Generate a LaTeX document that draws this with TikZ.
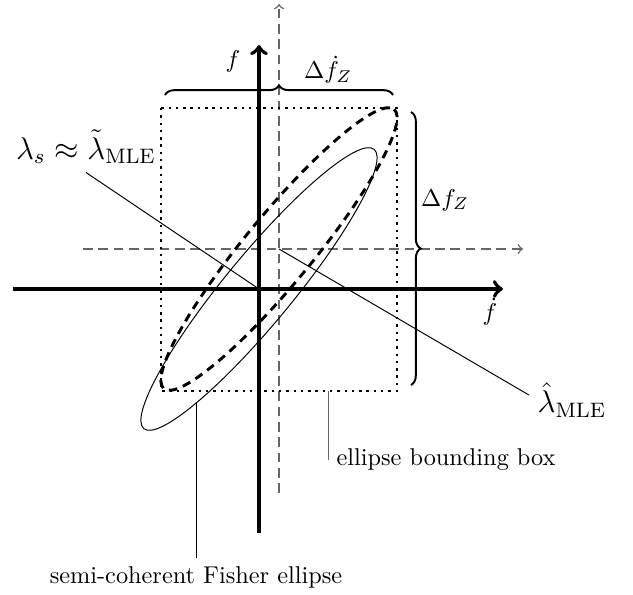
\documentclass[tikz,border=0pt]{standalone}
\usepackage{graphicx}
\usetikzlibrary{decorations.pathreplacing}
\newcommand{\biglbl}[1]{\scalebox{1.075}{\large #1}}
\begin{document}
\begin{tikzpicture}[x=0.4115pt,y=-0.4115pt,
  axis/.style={ultra thick,->},
  gaxis/.style={black!60, semithick, dash pattern=on 4pt off 2.3pt, ->},
  bbox/.style={line width=1pt, dotted},
  brc/.style={thick, decorate, decoration={brace, amplitude=4pt}},
  ell/.style={x radius=181, y radius=34},
]
\useasboundingbox (0,0) rectangle (633,595);
\coordinate (O) at (259,289);
\coordinate (C) at (279,249);
\coordinate (xl) at (13,289);  \coordinate (xr) at (503,289);
\coordinate (yb) at (259,533); \coordinate (yt) at (259,45);
\coordinate (dxl) at (83,249); \coordinate (dxr) at (523,249);
\coordinate (dyb) at (279,493); \coordinate (dyt) at (279,4);
% dashed shifted axes
\draw[gaxis] (dxl) -- (dxr);
\draw[gaxis] (dyb) -- (dyt);
% main axes
\draw[axis] (xl) -- (xr);
\draw[axis] (yb) -- (yt);
% bounding box
\draw[bbox] (161,108) rectangle (397,391);
% ellipses
\draw[thin, rotate around={50.5:(O)}] (O) ellipse [ell];
\draw[very thick, dash pattern=on 3.5pt off 2.5pt, rotate around={50.5:(C)}] (C) ellipse [ell];
% braces
\draw[brc] (165,95) -- (393,95);
\draw[brc] (411,112) -- (411,385);
% labels
\node (fl) at (233,61) {$f$};
\node (fdl) at (490,312) {$\dot f$};
\node (dfd) at (328,70) {$\Delta\dot f_Z$};
\node (dfz) at (445,200) {$\Delta f_Z$};
\node (ls) at (86,147) {\biglbl{$\lambda_s\approx\tilde\lambda_{\mathrm{MLE}}$}};
\node (lh) at (572,400) {\biglbl{$\hat\lambda_{\mathrm{MLE}}$}};
\draw[thin,->] (ls.south) -- (O);
\draw[thin] (C) -- ([yshift=2pt]lh.west);
% bounding box label
\coordinate (bbb) at (328,391);
\node[anchor=west] (bbl) at (328,460) {ellipse bounding box};
\draw[black!60] (bbb) -- (bbl.west);
% Fisher ellipse label
\coordinate (fe) at (196,402);
\node[anchor=north] (fel) at (196,558) {semi-coherent Fisher ellipse};
\draw[thin] (fe) -- (fel.north);
\end{tikzpicture}
\end{document}
